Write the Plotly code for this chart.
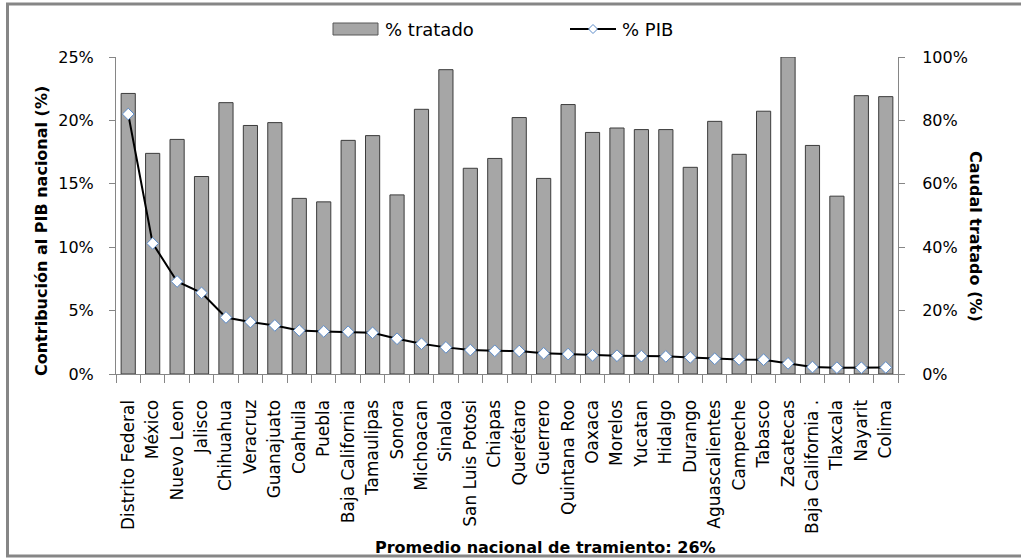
import plotly.graph_objects as go

# --- data -------------------------------------------------------------
estados = [
    "Distrito Federal", "México", "Nuevo Leon", "Jalisco", "Chihuahua",
    "Veracruz", "Guanajuato", "Coahuila", "Puebla", "Baja California",
    "Tamaulipas", "Sonora", "Michoacan", "Sinaloa", "San Luis Potosi",
    "Chiapas", "Querétaro", "Guerrero", "Quintana Roo", "Oaxaca",
    "Morelos", "Yucatan", "Hidalgo", "Durango", "Aguascalientes",
    "Campeche", "Tabasco", "Zacatecas", "Baja California .", "Tlaxcala",
    "Nayarit", "Colima",
]

# caudal tratado por estado (%), eje derecho
pct_tratado = [
    88.5, 69.6, 74.0, 62.3, 85.6, 78.4, 79.3, 55.4, 54.3, 73.7,
    75.2, 56.5, 83.5, 96.0, 64.9, 68.0, 80.9, 61.7, 85.0, 76.2,
    77.6, 77.1, 77.1, 65.2, 79.7, 69.3, 82.9, 100.0, 72.1, 56.1,
    87.8, 87.5,
]

# contribución al PIB nacional (%), eje izquierdo
pct_pib = [
    20.5, 10.3, 7.3, 6.4, 4.46, 4.1, 3.83, 3.43, 3.36, 3.33,
    3.25, 2.78, 2.39, 2.1, 1.89, 1.83, 1.81, 1.63, 1.57, 1.47,
    1.44, 1.41, 1.39, 1.31, 1.2, 1.15, 1.13, 0.84, 0.55, 0.5,
    0.5, 0.52,
]

left_ticks = [0, 5, 10, 15, 20, 25]
right_ticks = [0, 20, 40, 60, 80, 100]

# --- layout geometry (pixels) ----------------------------------------
W, H = 1021, 560
L, R, T, B = 116, 898, 57, 374


def px(x):
    return (x - L) / (R - L)


def py(y):
    return (B - y) / (B - T)


FONT = "DejaVu Sans"
AXIS_GRAY = "#868686"
BAR_FILL = "#a6a6a6"
BAR_EDGE = "#3c3c3c"
MARK_EDGE = "#5b8bc9"

fig = go.Figure()

# bars on the primary (right-hand) axis so the line overlays them
fig.add_trace(go.Bar(
    x=estados, y=pct_tratado, name="% tratado", yaxis="y",
    marker=dict(color=BAR_FILL, line=dict(color=BAR_EDGE, width=1)),
    showlegend=False,
))

fig.add_trace(go.Scatter(
    x=estados, y=pct_pib, name="% PIB", yaxis="y2", mode="lines+markers",
    line=dict(color="black", width=2),
    marker=dict(symbol="diamond", size=9, color="white",
                line=dict(color=MARK_EDGE, width=1)),
    showlegend=False,
))

tickfont = dict(family=FONT, size=16, color="black")

fig.update_layout(
    width=W, height=H,
    margin=dict(l=L, r=W - R, t=T, b=H - B, pad=0),
    paper_bgcolor="white", plot_bgcolor="white",
    bargap=0.42,
    showlegend=False,
    xaxis=dict(
        type="category", automargin=False,
        range=[-0.5, len(estados) - 0.5],
        showline=True, linecolor=AXIS_GRAY, linewidth=1,
        ticks="outside", tickson="boundaries", ticklen=8,
        tickcolor=AXIS_GRAY, tickwidth=1,
        tickangle=-90, ticklabelstandoff=18,
        tickfont=dict(family=FONT, size=17, color="black"),
        showgrid=False, zeroline=False,
    ),
    yaxis=dict(
        side="right", range=[0, 100], tickvals=right_ticks,
        ticktext=[f"{v}%" for v in right_ticks],
        showline=True, linecolor=AXIS_GRAY, linewidth=1,
        ticks="outside", ticklen=6, tickcolor=AXIS_GRAY,
        ticklabelstandoff=14, tickfont=tickfont,
        showgrid=False, zeroline=False, automargin=False,
    ),
    yaxis2=dict(
        overlaying="y", side="left", range=[0, 25], tickvals=left_ticks,
        ticktext=[f"{v}%" for v in left_ticks],
        showline=True, linecolor=AXIS_GRAY, linewidth=1,
        ticks="outside", ticklen=6, tickcolor=AXIS_GRAY,
        ticklabelstandoff=12, tickfont=tickfont,
        showgrid=False, zeroline=False, automargin=False,
    ),
)

shapes = []
# outer chart frame
shapes.append(dict(
    type="rect", xref="paper", yref="paper",
    x0=px(7.5), x1=px(1030), y0=py(556), y1=py(4),
    line=dict(color=AXIS_GRAY, width=3), fillcolor="rgba(0,0,0,0)",
    layer="below",
))
# legend: bar swatch
shapes.append(dict(
    type="rect", xref="paper", yref="paper",
    x0=px(333), x1=px(378), y0=py(35), y1=py(23),
    line=dict(color="#595959", width=1), fillcolor=BAR_FILL,
))
# legend: line sample
shapes.append(dict(
    type="line", xref="paper", yref="paper",
    x0=px(570), x1=px(616), y0=py(29), y1=py(29),
    line=dict(color="black", width=2),
))
cx, cy, d = 593, 29, 4.5
shapes.append(dict(
    type="path", xref="paper", yref="paper",
    path=(f"M {px(cx)} {py(cy - d)} L {px(cx + d)} {py(cy)} "
          f"L {px(cx)} {py(cy + d)} L {px(cx - d)} {py(cy)} Z"),
    line=dict(color=MARK_EDGE, width=1), fillcolor="white",
))

annotations = [
    dict(text="% tratado", x=px(383), y=py(29), xref="paper", yref="paper",
         xanchor="left", yanchor="middle", showarrow=False,
         font=dict(family=FONT, size=18, color="black")),
    dict(text="% PIB", x=px(620), y=py(29), xref="paper", yref="paper",
         xanchor="left", yanchor="middle", showarrow=False,
         font=dict(family=FONT, size=18, color="black")),
    dict(text="<b>Contribución al PIB nacional (%)</b>",
         x=px(42), y=py(231), xref="paper", yref="paper",
         xanchor="center", yanchor="middle", textangle=-90, showarrow=False,
         font=dict(family=FONT, size=16, color="black")),
    dict(text="<b>Caudal tratado (%)</b>",
         x=px(976), y=py(236), xref="paper", yref="paper",
         xanchor="center", yanchor="middle", textangle=90, showarrow=False,
         font=dict(family=FONT, size=16, color="black")),
    dict(text="<b>Promedio nacional de tramiento: 26%</b>",
         x=px(545), y=py(547), xref="paper", yref="paper",
         xanchor="center", yanchor="middle", showarrow=False,
         font=dict(family=FONT, size=16, color="black")),
]

fig.update_layout(shapes=shapes, annotations=annotations)

fig.write_html("out.html")
